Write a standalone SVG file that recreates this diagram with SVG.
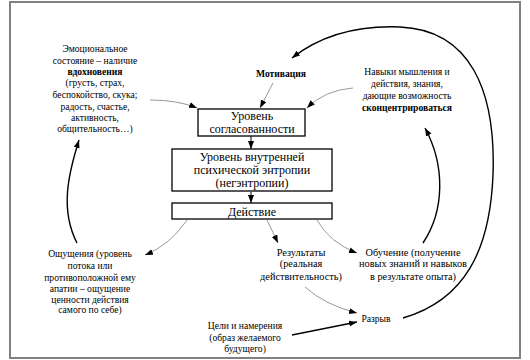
<svg xmlns="http://www.w3.org/2000/svg" width="530" height="360" viewBox="0 0 530 360">
<style>
text{font-family:"Liberation Serif","DejaVu Serif",serif;fill:#000;text-anchor:middle}
.s{font-size:9.6px}
.m{font-size:10.3px}
.b{font-size:12px}
.bold{font-weight:bold}
.box{fill:#fff;stroke:#000;stroke-width:1.3}
.g{fill:none;stroke:#999;stroke-width:1}
.k{fill:none;stroke:#000;stroke-width:1.4}
.k1{fill:none;stroke:#000;stroke-width:1}
</style>
<defs>
<marker id="ah" markerUnits="userSpaceOnUse" markerWidth="9" markerHeight="7" refX="8" refY="3" orient="auto">
<path d="M0,0 L8,3 L0,6 z" fill="#000"/>
</marker>
</defs>
<rect x="0" y="0" width="530" height="360" fill="#fff"/>
<rect x="10" y="2" width="510" height="356" fill="none" stroke="#808080" stroke-width="2"/>

<g id="connectors">
<path class="g" d="M273,83 L260,108" marker-end="url(#ah)"/>
<path class="g" d="M150,100 Q178,100 197,108" marker-end="url(#ah)"/>
<path class="g" d="M353,88 Q325,90 307,108" marker-end="url(#ah)"/>
<path class="k1" d="M251,136 L251,149" marker-end="url(#ah)"/>
<path class="k1" d="M251,192 L251,203" marker-end="url(#ah)"/>
<path class="g" d="M187,220 Q170,245 145,255" marker-end="url(#ah)"/>
<path class="g" d="M267,220 L278,243" marker-end="url(#ah)"/>
<path class="g" d="M317,220 Q330,243 357,253" marker-end="url(#ah)"/>
<path class="g" d="M305,287 Q325,305 357,313" marker-end="url(#ah)"/>
<path class="k" d="M292,335 L357,322" marker-end="url(#ah)"/>
<path class="k" d="M77,243 C60,210 68,175 79,140" marker-end="url(#ah)"/>
<path class="k" d="M423,243 C445,210 445,165 425,128" marker-end="url(#ah)"/>
<path class="k" d="M403,318 C465,300 490,250 493,175 C496,90 470,30 400,27 C350,25 315,40 292,58" marker-end="url(#ah)"/>
</g>

<g id="box-soglasovannost">
<rect class="box" x="198" y="109" width="107" height="27"/>
<text class="b" x="252" y="120">Уровень</text>
<text class="b" x="252" y="133">согласованности</text>
</g>
<g id="box-entropy">
<rect class="box" x="172" y="149" width="160" height="42"/>
<text class="b" x="252" y="161">Уровень внутренней</text>
<text class="b" x="252" y="174">психической энтропии</text>
<text class="b" x="252" y="187">(негэнтропии)</text>
</g>
<g id="box-action">
<rect class="box" x="172" y="203" width="160" height="16"/>
<text class="b" x="252" y="215.5">Действие</text>
</g>

<g id="motivation">
<text class="s bold" x="281" y="77">Мотивация</text>
</g>
<g id="emotion">
<text class="s" x="95" y="52">Эмоциональное</text>
<text class="s" x="95" y="64">состояние – наличие</text>
<text class="s bold" x="95" y="75">вдохновения</text>
<text class="s" x="95" y="86">(грусть, страх,</text>
<text class="s" x="95" y="98">беспокойство, скука;</text>
<text class="s" x="95" y="110">радость, счастье,</text>
<text class="s" x="95" y="121">активность,</text>
<text class="s" x="95" y="132">общительность…)</text>
</g>
<g id="skills">
<text class="s" x="407" y="75">Навыки мышления и</text>
<text class="s" x="407" y="87">действия, знания,</text>
<text class="s" x="407" y="99">дающие возможность</text>
<text class="s bold" x="407" y="111">сконцентрироваться</text>
</g>
<g id="feelings">
<text class="s" x="90" y="257">Ощущения (уровень</text>
<text class="s" x="90" y="269">потока или</text>
<text class="s" x="90" y="281">противоположной ему</text>
<text class="s" x="90" y="292">апатии – ощущение</text>
<text class="s" x="90" y="303">ценности действия</text>
<text class="s" x="90" y="313">самого по себе)</text>
</g>
<g id="results">
<text class="m" x="301" y="256">Результаты</text>
<text class="m" x="301" y="267">(реальная</text>
<text class="m" x="301" y="280">действительность)</text>
</g>
<g id="learning">
<text class="m" x="413" y="256">Обучение (получение</text>
<text class="m" x="413" y="267">новых знаний и навыков</text>
<text class="m" x="413" y="280">в результате опыта)</text>
</g>
<g id="gap">
<text class="s" x="376" y="322">Разрыв</text>
</g>
<g id="goals">
<text class="s" x="245" y="329">Цели и намерения</text>
<text class="s" x="245" y="341">(образ желаемого</text>
<text class="s" x="245" y="352">будущего)</text>
</g>
</svg>
